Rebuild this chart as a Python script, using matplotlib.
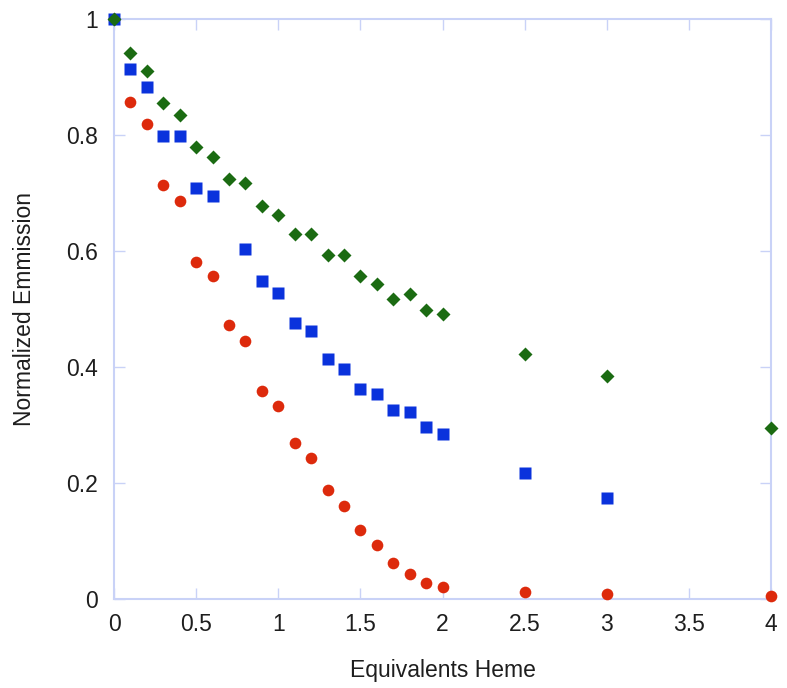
import matplotlib
matplotlib.use('Agg')
import matplotlib.pyplot as plt

# datos
x_verde = [0, 0.1, 0.2, 0.3, 0.4, 0.5, 0.6, 0.7, 0.8, 0.9, 1.0, 1.1, 1.2, 1.3,
           1.4, 1.5, 1.6, 1.7, 1.8, 1.9, 2.0, 2.5, 3.0, 4.0]
y_verde = [1.0, 0.941, 0.910, 0.855, 0.834, 0.779, 0.762, 0.724, 0.717, 0.678,
           0.662, 0.629, 0.629, 0.593, 0.593, 0.557, 0.543, 0.517, 0.526, 0.498,
           0.491, 0.422, 0.384, 0.295]

x_azul = [0, 0.1, 0.2, 0.3, 0.4, 0.5, 0.6, 0.8, 0.9, 1.0, 1.1, 1.2, 1.3, 1.4,
          1.5, 1.6, 1.7, 1.8, 1.9, 2.0, 2.5, 3.0]
y_azul = [1.0, 0.914, 0.883, 0.798, 0.798, 0.709, 0.695, 0.603, 0.548, 0.528,
          0.476, 0.462, 0.414, 0.397, 0.362, 0.353, 0.326, 0.322, 0.297, 0.284,
          0.217, 0.174]

x_rojo = [0, 0.1, 0.2, 0.3, 0.4, 0.5, 0.6, 0.7, 0.8, 0.9, 1.0, 1.1, 1.2, 1.3,
          1.4, 1.5, 1.6, 1.7, 1.8, 1.9, 2.0, 2.5, 3.0, 4.0]
y_rojo = [1.0, 0.857, 0.819, 0.714, 0.686, 0.581, 0.557, 0.472, 0.445, 0.359,
          0.333, 0.269, 0.243, 0.188, 0.160, 0.119, 0.093, 0.062, 0.043, 0.028,
          0.021, 0.012, 0.009, 0.005]

xticks = [0, 0.5, 1, 1.5, 2, 2.5, 3, 3.5, 4]
yticks = [0, 0.2, 0.4, 0.6, 0.8, 1]

plt.rcParams['font.family'] = ['Liberation Sans', 'DejaVu Sans']
marco = '#c9d2f7'
texto = '#1e1e1e'

fig = plt.figure(figsize=(7.87, 6.88), dpi=100)
ax = fig.add_axes([0.1449, 0.1294, 0.8348, 0.843])

ax.plot(x_rojo, y_rojo, 'o', color='#dd2a0c', ms=8.4, mec='none',
        clip_on=False, zorder=3)
ax.plot(x_azul, y_azul, 's', color='#0a32dc', ms=8.2, mec='none',
        clip_on=False, zorder=3)
ax.plot(x_verde, y_verde, 'D', color='#1b6b12', ms=6.8, mec='none',
        clip_on=False, zorder=3)

ax.set_xlim(0, 4)
ax.set_ylim(0, 1)
ax.set_xticks(xticks)
ax.set_xticklabels(['0', '0.5', '1', '1.5', '2', '2.5', '3', '3.5', '4'])
ax.set_yticks(yticks)
ax.set_yticklabels(['0', '0.2', '0.4', '0.6', '0.8', '1'])

for s in ax.spines.values():
    s.set_color(marco)
    s.set_linewidth(1.5)
    s.set_zorder(2)
ax.tick_params(direction='in', length=8, width=1, color=marco,
               top=True, right=True, labelsize=16.5, labelcolor=texto)
ax.tick_params(axis='y', pad=11.5)
ax.tick_params(axis='x', pad=10)

ax.set_xlabel('Equivalents Heme', fontsize=16.5, labelpad=17, color=texto)
ax.set_ylabel('Normalized Emmission', fontsize=16.5, labelpad=22, color=texto)

fig.savefig('out.png', dpi=100)
